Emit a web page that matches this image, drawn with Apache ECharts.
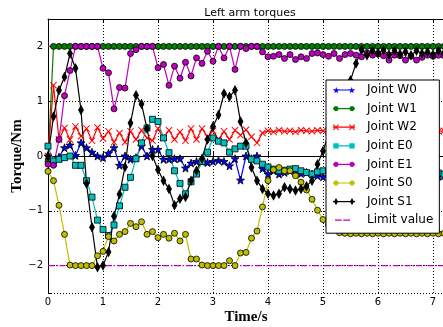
<!DOCTYPE html>
<html>
<head>
<meta charset="utf-8">
<script src="https://cdn.jsdelivr.net/npm/echarts@6/dist/echarts.min.js"></script>
<style>
  html, body { margin: 0; padding: 0; background: #fff; }
  #chart { width: 443px; height: 327px; }
</style>
</head>
<body>
<div id="chart"></div>
<script>
// time samples (s)
const times = [0, 0.1, 0.2, 0.3, 0.4, 0.5, 0.6, 0.7, 0.8, 0.9,
  1.0, 1.1, 1.2, 1.3, 1.4, 1.5, 1.6, 1.7, 1.8, 1.9,
  2.0, 2.1, 2.2, 2.3, 2.4, 2.5, 2.6, 2.7, 2.8, 2.9,
  3.0, 3.1, 3.2, 3.3, 3.4, 3.5, 3.6, 3.7, 3.8, 3.9,
  4.0, 4.1, 4.2, 4.3, 4.4, 4.5, 4.6, 4.7, 4.8, 4.9,
  5.0, 5.1, 5.2, 5.3, 5.4, 5.5, 5.6, 5.7, 5.8, 5.9,
  6.0, 6.1, 6.2, 6.3, 6.4, 6.5, 6.6, 6.7, 6.8, 6.9,
  7.0, 7.1, 7.2];

// torques (Nm) per joint, one value per time sample
const jointW0 = [0.0, -0.12, -0.02, 0.15, 0.2, 0.01, 0.24, 0.15, 0.07, 0.0,
  -0.03, 0.05, 0.15, -0.17, 0.0, -0.06, -0.03, 0.18, 0.0, 0.12,
  0.12, -0.06, -0.06, -0.05, -0.05, -0.22, -0.13, -0.1, -0.1, -0.12,
  -0.1, -0.08, -0.1, -0.18, -0.05, -0.44, 0.0, -0.05, 0.0, -0.23,
  -0.33, -0.27, -0.33, -0.3, -0.27, -0.3, -0.32, -0.3, -0.33, -0.36,
  -0.38, -0.37, -0.36, -0.38, -0.35, -0.37, -0.36, -0.38, -0.35, -0.37,
  -0.36, -0.38, -0.35, -0.37, -0.36, -0.38, -0.35, -0.37, -0.36, -0.38,
  -0.35, -0.37, -0.36];
const jointW1 = [-0.1, 2, 2, 2, 2, 2, 2, 2, 2, 2,
  2, 2, 2, 2, 2, 2, 2, 2, 2, 2,
  2, 2, 2, 2, 2, 2, 2, 2, 2, 2,
  2, 2, 2, 2, 2, 2, 2, 2, 2, 2,
  2, 2, 2, 2, 2, 2, 2, 2, 2, 2,
  2, 2, 2, 2, 2, 2, 2, 2, 2, 2,
  2, 2, 2, 2, 2, 2, 2, 2, 2, 2,
  2, 2, 2];
const jointW2 = [0.0, 1.29, 0.3, 0.51, 0.3, 0.54, 0.36, 0.5, 0.28, 0.52,
  0.32, 0.45, 0.25, 0.42, 0.25, 0.45, 0.3, 0.47, 0.33, 0.28,
  0.5, 0.33, 0.47, 0.3, 0.44, 0.28, 0.5, 0.3, 0.5, 0.35,
  0.46, 0.3, 0.45, 0.3, 0.47, 0.38, 0.48, 0.35, 0.24, 0.42,
  0.46, 0.44, 0.47, 0.45, 0.46, 0.44, 0.47, 0.46, 0.45, 0.47,
  0.46, 0.44, 0.47, 0.45, 0.46, 0.44, 0.47, 0.46, 0.45, 0.47,
  0.46, 0.44, 0.47, 0.45, 0.46, 0.44, 0.47, 0.46, 0.45, 0.47,
  0.46, 0.45, 0.46];
const jointE0 = [0.18, -0.09, -0.06, -0.03, 0.0, -0.17, -0.17, -0.45, -0.75, -1.17,
  -1.34, -1.45, -1.26, -0.91, -0.57, -0.39, -0.05, 0.24, 0.51, 0.67,
  0.63, 0.33, 0.06, -0.27, -0.5, -0.69, -0.47, -0.33, -0.1, 0.07,
  0.33, 0.27, 0.24, 0.07, 0.13, 0.18, 0.18, -0.06, -0.09, -0.15,
  -0.2, -0.24, -0.27, -0.26, -0.24, -0.23, -0.27, -0.3, -0.33, -0.29,
  -0.27, -0.28, -0.3, -0.28, -0.29, -0.3, -0.28, -0.29, -0.3, -0.28,
  -0.29, -0.3, -0.28, -0.29, -0.3, -0.28, -0.29, -0.3, -0.28, -0.29,
  -0.3, -0.31, -0.33];
const jointE1 = [-0.15, -0.17, 0.3, 1.1, 1.56, 2.0, 2.0, 2.0, 2.0, 2.0,
  1.6, 1.52, 0.86, 1.25, 1.24, 1.87, 1.94, 2.0, 2.0, 2.0,
  1.61, 1.67, 1.29, 1.64, 1.42, 1.71, 1.46, 1.79, 1.69, 1.91,
  1.73, 2.0, 1.79, 2.0, 1.58, 2.0, 1.96, 2.0, 2.0, 1.9,
  1.81, 1.82, 1.85, 1.78, 1.85, 1.76, 1.81, 1.78, 1.87, 1.88,
  1.85, 1.82, 1.87, 1.78, 1.85, 1.87, 1.84, 1.81, 1.88, 1.84,
  1.86, 1.83, 1.75, 1.84, 1.83, 1.75, 1.82, 1.75, 1.8, 1.84,
  1.82, 1.84, 1.83];
const jointS0 = [-0.28, -0.45, -0.9, -1.43, -1.99, -2.0, -2.0, -2.0, -2.0, -1.82,
  -1.74, -1.47, -1.55, -1.43, -1.38, -1.23, -1.29, -1.2, -1.43, -1.38,
  -1.49, -1.43, -1.5, -1.41, -1.55, -1.43, -1.88, -1.88, -1.99, -2.0,
  -2.0, -2.0, -2.0, -1.91, -2.0, -1.77, -1.76, -1.5, -1.37, -0.93,
  -0.45, -0.25, -0.21, -0.27, -0.27, -0.36, -0.48, -0.62, -0.79, -0.99,
  -1.16, -1.25, -1.35, -1.4, -1.41, -1.42, -1.41, -1.42, -1.41, -1.42,
  -1.41, -1.42, -1.41, -1.42, -1.41, -1.42, -1.41, -1.42, -1.41, -1.42,
  -1.41, -1.42, -1.41];
const jointS1 = [0.0, 0.72, 1.2, 1.44, 1.87, 1.6, 0.84, -0.5, -1.3, -2.03,
  -2.0, -1.75, -1.1, -0.7, -0.2, 0.6, 1.11, 0.95, 0.5, 0.0,
  -0.25, -0.45, -0.6, -0.9, -0.78, -0.75, -0.45, -0.27, -0.05, 0.3,
  0.54, 0.75, 1.14, 1.08, 1.2, 0.63, 0.24, -0.21, -0.45, -0.6,
  -0.69, -0.72, -0.69, -0.57, -0.6, -0.63, -0.6, -0.55, -0.45, -0.15,
  0.09, 0.4, 0.7, 0.95, 1.2, 1.38, 1.69, 1.94, 1.84, 1.92,
  1.88, 1.93, 1.85, 1.92, 1.86, 1.9, 1.84, 1.92, 1.87, 1.9,
  1.85, 1.92, 1.88];
const limitTimes = [0, 7.2];
const limitUpper = [2, 2];
const limitLower = [-2, -2];

const pair = (xs, ys) => xs.map((x, i) => [x, ys[i]]);

const starPath = 'path://M0,-10L2.35,-3.24L9.51,-3.09L3.8,1.24L5.88,8.09L0,4L-5.88,8.09L-3.8,1.24L-9.51,-3.09L-2.35,-3.24Z';
const xPath = 'path://M-5,-4L-4,-5L0,-1L4,-5L5,-4L1,0L5,4L4,5L0,1L-4,5L-5,4L-1,0Z';

// legend icons: a short line with a marker at each end, like matplotlib
const CY = 4;
const poly = pts => 'M' + pts.map(p => p[0].toFixed(2) + ',' + p[1].toFixed(2)).join('L') + 'Z';
const ngon = (cx, r, n) => poly(Array.from({ length: n }, (_, k) => {
    const a = k / n * 2 * Math.PI;
    return [cx + r * Math.cos(a), CY + r * Math.sin(a)];
}));
const marks = {
    circle: cx => ngon(cx, 2.6, 16),
    rect: cx => poly([[cx - 2.6, CY - 2.6], [cx + 2.6, CY - 2.6], [cx + 2.6, CY + 2.6], [cx - 2.6, CY + 2.6]]),
    star: cx => poly(Array.from({ length: 10 }, (_, k) => {
        const a = -Math.PI / 2 + k * Math.PI / 5, r = k % 2 ? 1.4 : 3.6;
        return [cx + r * Math.cos(a), CY + 0.4 + r * Math.sin(a)];
    })),
    x: cx => poly([[-3, -2.3], [-2.3, -3], [0, -0.7], [2.3, -3], [3, -2.3], [0.7, 0], [3, 2.3], [2.3, 3], [0, 0.7], [-2.3, 3], [-3, 2.3], [-0.7, 0]]
        .map(p => [cx + p[0], CY + p[1]])),
    diamond: cx => poly([[cx, CY - 3.6], [cx + 2, CY], [cx, CY + 3.6], [cx - 2, CY]])
};
const anchors = 'M0,0L0,0ZM22,8L22,8Z';
const bar = (x0, x1) => poly([[x0, CY - 0.6], [x1, CY - 0.6], [x1, CY + 0.6], [x0, CY + 0.6]]);
const legendIcon = kind => 'path://' + anchors + bar(0, 22) + marks[kind](3) + marks[kind](19);
const limitIcon = 'path://' + anchors + bar(2, 8.7) + bar(10.3, 17);

function joint(name, ys, color, symbol, size, edge) {
    return {
        name: name,
        type: 'line',
        data: pair(times, ys),
        symbol: symbol,
        symbolSize: size,
        showAllSymbol: true,
        lineStyle: { color: color, width: 1.2 },
        itemStyle: {
            color: color,
            borderColor: edge ? '#000' : color,
            borderWidth: edge ? 0.8 : 0
        },
        emphasis: { disabled: true },
        animation: false
    };
}

function limit(ys) {
    return {
        name: 'Limit value',
        type: 'line',
        data: pair(limitTimes, ys),
        symbol: 'none',
        lineStyle: { color: '#bf00bf', width: 1.3, type: [6, 2, 1.5, 2] },
        itemStyle: { color: '#bf00bf' },
        animation: false
    };
}

const fmtTick = v => {
    if (!Number.isInteger(v)) return '';
    return v < 0 ? '\u2212' + (-v) : String(v);
};

const chart = echarts.init(document.getElementById('chart'));
chart.setOption({
    backgroundColor: '#fff',
    animation: false,
    title: {
        text: 'Left arm torques',
        left: 245, top: 3, textAlign: 'center',
        textStyle: { fontFamily: 'DejaVu Sans', fontSize: 11, fontWeight: 'normal', color: '#000' }
    },
    legend: {
        orient: 'vertical',
        left: 326, top: 80,
        padding: [3, 6, 6, 7],
        itemWidth: 22, itemHeight: 8, itemGap: 4.6,
        backgroundColor: '#fff',
        borderColor: '#000', borderWidth: 1, borderRadius: 0,
        itemStyle: { borderWidth: 0 },
        textStyle: { fontFamily: 'DejaVu Sans', fontSize: 12, lineHeight: 14, color: '#000', padding: [0, 0, 0, 7] },
        data: [
            { name: 'Joint W0', icon: legendIcon('star') },
            { name: 'Joint W1', icon: legendIcon('circle') },
            { name: 'Joint W2', icon: legendIcon('x') },
            { name: 'Joint E0', icon: legendIcon('rect') },
            { name: 'Joint E1', icon: legendIcon('circle') },
            { name: 'Joint S0', icon: legendIcon('circle') },
            { name: 'Joint S1', icon: legendIcon('diamond') },
            { name: 'Limit value', icon: limitIcon }
        ]
    },
    grid: { left: 48, top: 19, width: 396, height: 274, outerBoundsMode: 'none' },
    xAxis: [{
        type: 'value', min: 0, max: 7.2, interval: 1,
        name: 'Time/s', nameLocation: 'middle', nameGap: 17, nameMoveOverlap: false,
        nameTextStyle: { fontFamily: 'Liberation Serif', fontWeight: 'bold', fontSize: 15, color: '#000' },
        axisLine: { lineStyle: { color: '#000', width: 1 } },
        axisTick: { inside: true, length: 4, lineStyle: { color: '#000' } },
        axisLabel: { formatter: fmtTick, fontFamily: 'DejaVu Sans', fontSize: 10, color: '#000', margin: 4 },
        splitLine: { show: true, lineStyle: { color: '#000', type: [1, 2], width: 1 } }
    }, {
        type: 'value', min: 0, max: 7.2, interval: 1, position: 'top',
        axisLine: { lineStyle: { color: '#000', width: 1 } },
        axisTick: { inside: true, length: 4, lineStyle: { color: '#000' } },
        axisLabel: { show: false },
        splitLine: { show: false }
    }],
    yAxis: {
        type: 'value', min: -2.5, max: 2.5, splitNumber: 5,
        name: 'Torque/Nm', nameLocation: 'middle', nameGap: 23, nameMoveOverlap: false,
        nameTextStyle: { fontFamily: 'Liberation Serif', fontWeight: 'bold', fontSize: 15, color: '#000' },
        axisLine: { show: true, lineStyle: { color: '#000', width: 1 } },
        axisTick: { show: true, inside: true, length: 4, lineStyle: { color: '#000' } },
        axisLabel: { formatter: fmtTick, fontFamily: 'DejaVu Sans', fontSize: 10, color: '#000', margin: 5 },
        splitLine: { show: true, lineStyle: { color: '#000', type: [1, 2], width: 1 } }
    },
    series: [
        joint('Joint W0', jointW0, '#0000ff', starPath, 8, true),
        joint('Joint W1', jointW1, '#008000', 'circle', 6, true),
        joint('Joint W2', jointW2, '#ff0000', xPath, 7, false),
        joint('Joint E0', jointE0, '#00bfbf', 'rect', 6, true),
        joint('Joint E1', jointE1, '#bf00bf', 'circle', 6, true),
        joint('Joint S0', jointS0, '#bfbf00', 'circle', 6, true),
        joint('Joint S1', jointS1, '#000000', 'diamond', [5, 9], true),
        limit(limitUpper),
        limit(limitLower)
    ]
});
window.addEventListener('resize', () => chart.resize());
</script>
</body>
</html>
